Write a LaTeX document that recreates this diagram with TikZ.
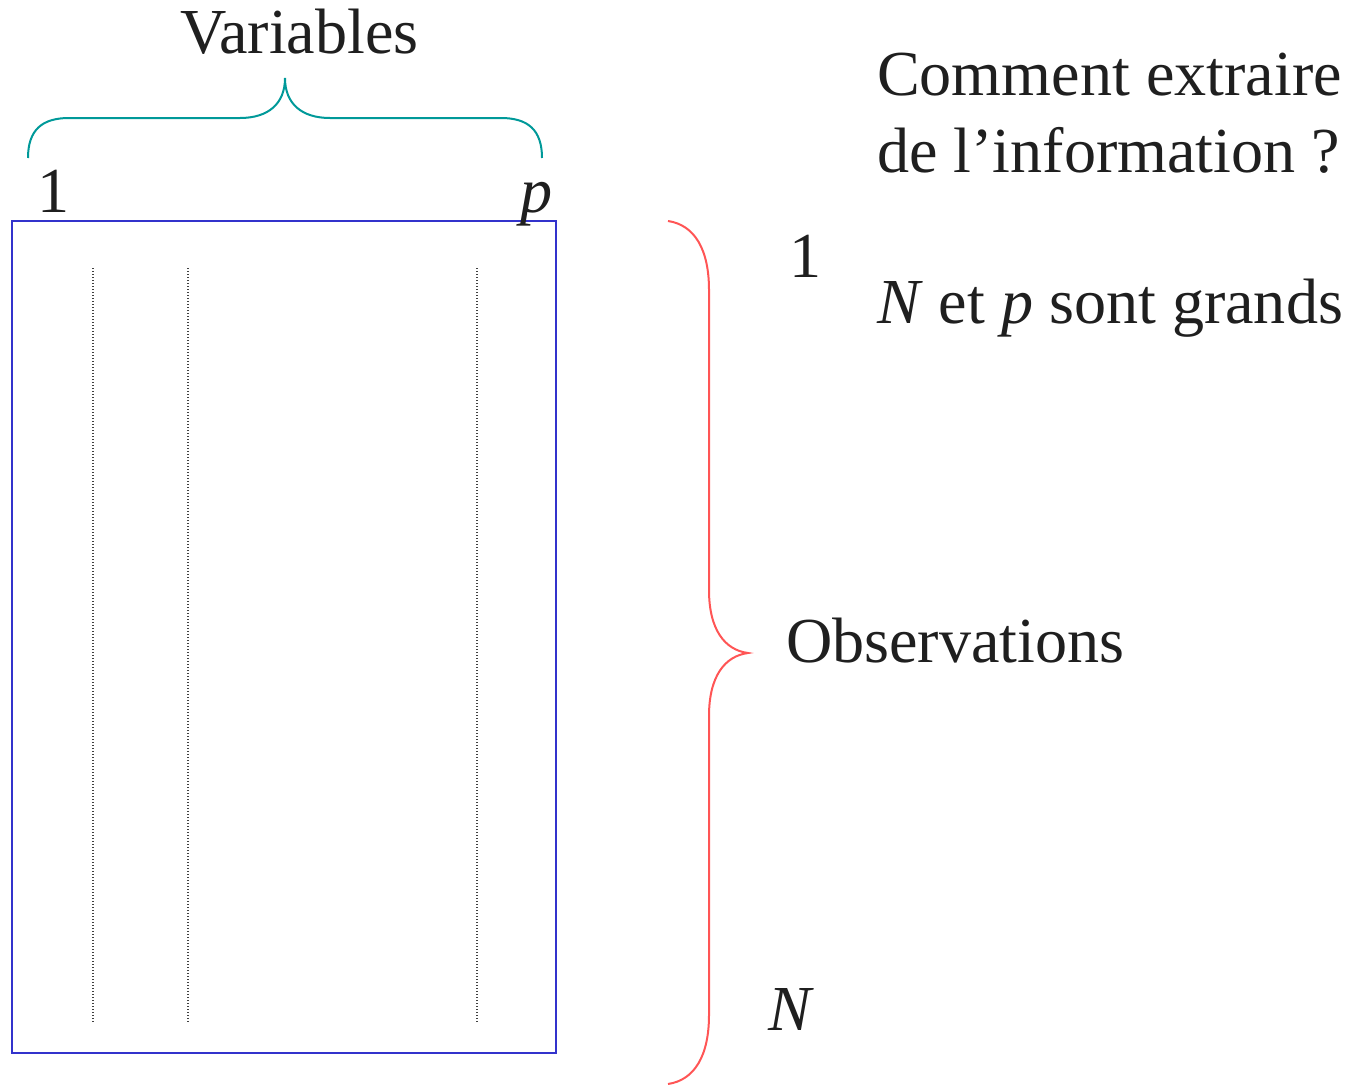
\documentclass[tikz,border=0pt]{standalone}
\usepackage{fontspec}
\setmainfont{Liberation Serif}
\definecolor{rectblue}{RGB}{51,51,204}
\definecolor{teal2}{RGB}{0,153,153}
\definecolor{red2}{RGB}{255,85,85}
\begin{document}
\begin{tikzpicture}[x=0.75pt,y=-0.75pt,
  lbl/.style={anchor=base west,inner sep=0pt,outer sep=0pt,font=\fontsize{48.1}{57}\selectfont,text=black!88},
  dotl/.style={line width=0.8pt,black!75,dash pattern=on 0.75pt off 1.5pt},
  bracestyle/.style={line width=1.5pt}]
\useasboundingbox (0,0) rectangle (1358,1085);
% matrix
\draw[rectblue,line width=1.5pt] (12,221) rectangle (556,1053);
\coordinate (d1t) at (93,268); \coordinate (d1b) at (93,1022);
\coordinate (d2t) at (188,268); \coordinate (d2b) at (188,1022);
\coordinate (d3t) at (477,268); \coordinate (d3b) at (477,1022);
\draw[dotl] (d1t) -- (d1b);
\draw[dotl] (d2t) -- (d2b);
\draw[dotl] (d3t) -- (d3b);
% teal brace
\draw[teal2,bracestyle] (28,158) .. controls (28,130) and (42,118) .. (69,118) -- (240,118)
  .. controls (268,118) and (285,104) .. (285,78)
  .. controls (285,104) and (302,118) .. (330,118) -- (501,118)
  .. controls (528,118) and (542,130) .. (542,158);
% red brace
\draw[red2,bracestyle] (668,221) .. controls (695,225) and (709,250) .. (709,290) -- (709,590)
  .. controls (709,630) and (725,650) .. (748,653)
  .. controls (725,656) and (709,676) .. (709,716) -- (709,1015)
  .. controls (709,1055) and (695,1080) .. (668,1084);
% labels
\node[lbl] (var) at (180,53) {Variables};
\node[lbl] (c1) at (37,212) {1};
\node[lbl] (cp) at (520,212) {\itshape p};
\node[lbl] (r1) at (789,277) {1};
\node[lbl] (rN) at (768,1030) {\itshape N};
\node[lbl] (obs) at (786,662) {Observations};
\node[lbl] (q1) at (877,95) {Comment extraire};
\node[lbl] (q2) at (877,172) {de l’information ?};
\node[lbl] (ng) at (877,323) {\itshape N\/\upshape{} et \itshape p\/\upshape{} sont grands};
\end{tikzpicture}
\end{document}
